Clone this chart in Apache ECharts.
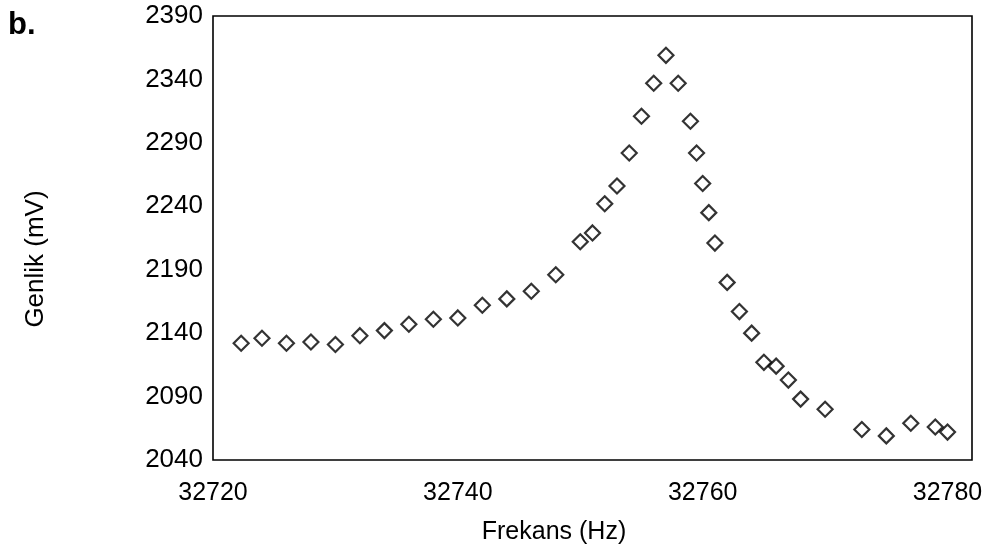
<!DOCTYPE html>
<html>
<head>
<meta charset="utf-8">
<script src="https://cdn.jsdelivr.net/npm/echarts@6/dist/echarts.min.js"></script>
<style>
  html, body { margin: 0; padding: 0; background: #fff; }
  #chart { width: 990px; height: 556px; }
</style>
</head>
<body>
<div id="chart"></div>
<script>
// Resonance sweep: measured amplitude vs. drive frequency
const frequencyHz = [
  32722.3, 32724, 32726, 32728, 32730, 32732, 32734, 32736, 32738, 32740,
  32742, 32744, 32746, 32748, 32750, 32751, 32752, 32753, 32754, 32755,
  32756, 32757, 32758, 32759, 32759.5, 32760, 32760.5, 32761, 32762, 32763,
  32764, 32765, 32766, 32767, 32768, 32770, 32773, 32775, 32777, 32779, 32780
];
const amplitudeMv = [
  2132, 2136, 2132, 2133, 2131, 2138, 2142, 2147, 2151, 2152,
  2162, 2167, 2173, 2186, 2212, 2219, 2242, 2256, 2282, 2311,
  2337, 2359, 2337, 2307, 2282, 2258, 2235, 2211, 2180, 2157,
  2140, 2117, 2114, 2103, 2088, 2080, 2064, 2059, 2069, 2066, 2062
];
const xTicks = [32720, 32740, 32760, 32780];
const yTicks = [2040, 2090, 2140, 2190, 2240, 2290, 2340, 2390];

const points = frequencyHz.map((f, i) => [f, amplitudeMv[i]]);
const FONT = 'Arial, "Liberation Sans", sans-serif';
const plain = v => String(v);

const chart = echarts.init(document.getElementById('chart'), null, { renderer: 'canvas' });
chart.setOption({
  animation: false,
  backgroundColor: '#ffffff',
  grid: {
    left: 213, right: 18, top: 16, bottom: 96,
    show: true, borderColor: '#000', borderWidth: 1.6, backgroundColor: 'transparent'
  },
  xAxis: {
    type: 'value',
    min: 32720, max: 32782,
    axisLine: { show: false },
    axisTick: { show: false },
    splitLine: { show: false },
    axisLabel: {
      customValues: xTicks, formatter: plain,
      color: '#000', fontSize: 25, fontFamily: FONT, margin: 21
    }
  },
  yAxis: {
    type: 'value',
    min: 2040, max: 2390,
    axisLine: { show: false },
    axisTick: { show: false },
    splitLine: { show: false },
    axisLabel: {
      customValues: yTicks, formatter: plain,
      color: '#000', fontSize: 26, fontFamily: FONT, margin: 10
    }
  },
  graphic: [
    { type: 'text', x: 8, y: 25, style: { text: 'b.', font: 'bold 31px ' + FONT, fill: '#000', align: 'left', verticalAlign: 'middle' } },
    { type: 'text', x: 554, y: 532, style: { text: 'Frekans (Hz)', font: '25px ' + FONT, fill: '#000', align: 'center', verticalAlign: 'middle' } },
    { type: 'text', x: 36, y: 259, rotation: Math.PI / 2, style: { text: 'Genlik (mV)', font: '26px ' + FONT, fill: '#000', align: 'center', verticalAlign: 'middle' } }
  ],
  series: [{
    type: 'scatter',
    data: points,
    symbol: 'diamond',
    symbolSize: 15,
    itemStyle: { color: '#fff', borderColor: '#000', borderWidth: 2.2 }
  }]
});
</script>
</body>
</html>
